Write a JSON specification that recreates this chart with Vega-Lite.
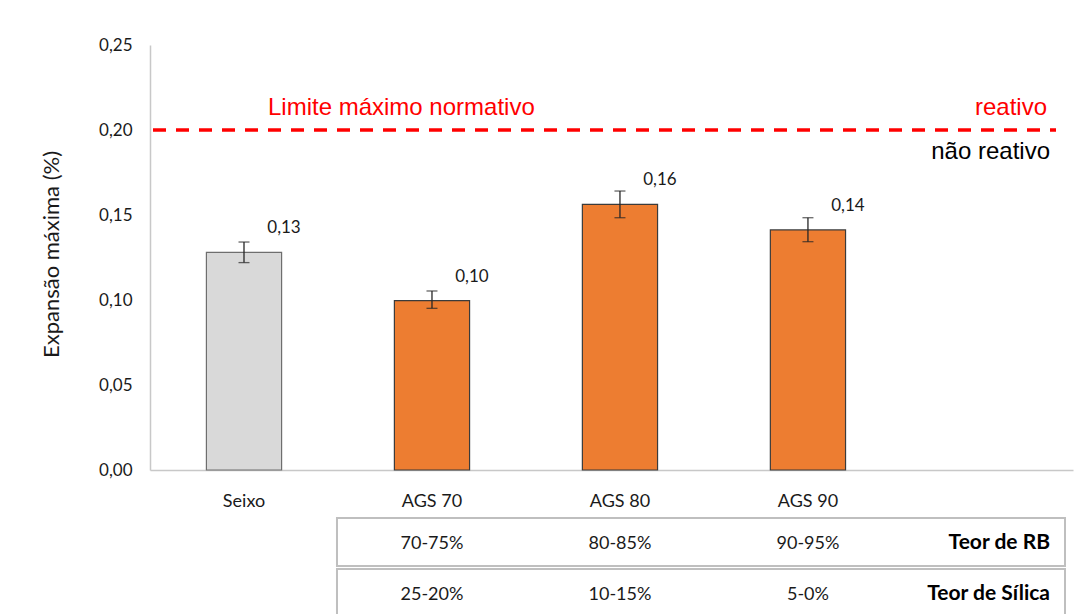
{
  "$schema": "https://vega.github.io/schema/vega-lite/v6.json",
  "width": 923,
  "height": 425,
  "autosize": {"type": "none"},
  "padding": {"left": 150, "top": 45, "right": 10, "bottom": 144},
  "background": "white",
  "config": {"view": {"stroke": null}, "font": "Lato"},
  "resolve": {"scale": {"y": "independent"}, "axis": {"y": "independent"}},
  "layer": [
    {
      "data": {"values": [
        {"amostra": "Seixo", "tipo": "Referência", "valor": 0.128, "min": 0.122, "max": 0.1341, "rotulo": "0,13"},
        {"amostra": "AGS 70", "tipo": "AGS", "valor": 0.0996, "min": 0.0951, "max": 0.1053, "rotulo": "0,10"},
        {"amostra": "AGS 80", "tipo": "AGS", "valor": 0.1563, "min": 0.1484, "max": 0.1641, "rotulo": "0,16"},
        {"amostra": "AGS 90", "tipo": "AGS", "valor": 0.1412, "min": 0.1343, "max": 0.1484, "rotulo": "0,14"}
      ]},
      "layer": [
        {
          "mark": {"type": "bar", "strokeWidth": 1.2},
          "encoding": {
            "x": {
              "field": "amostra", "type": "nominal", "sort": null,
              "scale": {"domain": ["Seixo", "AGS 70", "AGS 80", "AGS 90"], "paddingInner": 0.6, "paddingOuter": 0.755, "align": 0.1987},
              "axis": {"title": null, "ticks": false, "domainColor": "#c8c8c8", "domainWidth": 1.5, "labelFont": "Lato", "labelFontSize": 18, "labelColor": "#1a1a1a", "labelAngle": 0, "labelPadding": 31, "labelBaseline": "middle"}
            },
            "y": {
              "field": "valor", "type": "quantitative",
              "scale": {"domain": [0, 0.25], "nice": false, "zero": true},
              "axis": {"values": [0, 0.05, 0.1, 0.15, 0.2, 0.25], "labelExpr": "replace(format(datum.value,'.2f'),'.',',')", "ticks": false, "grid": false, "domainColor": "#c8c8c8", "domainWidth": 1.5, "labelFont": "Lato", "labelFontSize": 17, "labelColor": "#1a1a1a", "labelPadding": 18, "title": "Expansão máxima (%)", "titleFont": "Lato", "titleFontSize": 22, "titleFontWeight": "normal", "titleColor": "#1a1a1a", "titleX": -99, "titleY": 209, "titleAngle": -90, "titleAlign": "center", "titleBaseline": "middle"}
            },
            "fill": {"field": "tipo", "type": "nominal", "scale": {"domain": ["Referência", "AGS"], "range": ["#d9d9d9", "#ed7d31"]}, "legend": null},
            "stroke": {"field": "tipo", "type": "nominal", "scale": {"domain": ["Referência", "AGS"], "range": ["#6e6e6e", "#3b3b3b"]}, "legend": null}
          }
        },
        {
          "mark": {"type": "rule", "color": "#262626", "strokeWidth": 1.3},
          "encoding": {
            "x": {"field": "amostra", "type": "nominal"},
            "y": {"field": "min", "type": "quantitative"},
            "y2": {"field": "max"}
          }
        },
        {
          "mark": {"type": "tick", "color": "#262626", "thickness": 1.3, "size": 11, "orient": "horizontal"},
          "encoding": {
            "x": {"field": "amostra", "type": "nominal"},
            "y": {"field": "max", "type": "quantitative"}
          }
        },
        {
          "mark": {"type": "tick", "color": "#262626", "thickness": 1.3, "size": 11, "orient": "horizontal"},
          "encoding": {
            "x": {"field": "amostra", "type": "nominal"},
            "y": {"field": "min", "type": "quantitative"}
          }
        },
        {
          "mark": {"type": "text", "font": "Lato", "fontSize": 17, "dx": 40, "dy": -24, "align": "center", "baseline": "middle", "color": "#1a1a1a"},
          "encoding": {
            "x": {"field": "amostra", "type": "nominal"},
            "y": {"field": "valor", "type": "quantitative"},
            "text": {"field": "rotulo"}
          }
        },
        {
          "data": {"values": [{"limite": 0.2}]},
          "mark": {"type": "rule", "color": "#ff0000", "strokeWidth": 3.5, "strokeDash": [13, 10], "xOffset": 3, "x2Offset": -17},
          "encoding": {
            "y": {"field": "limite", "type": "quantitative"},
            "x": {"value": 0},
            "x2": {"value": "width"}
          }
        },
        {
          "data": {"values": [{"texto": "Limite máximo normativo", "limite": 0.2, "amostra": "Seixo"}]},
          "mark": {"type": "text", "font": "Liberation Sans", "fontSize": 24, "color": "#ff0000", "align": "left", "baseline": "middle", "dx": 24, "dy": -22},
          "encoding": {
            "x": {"field": "amostra", "type": "nominal"},
            "y": {"field": "limite", "type": "quantitative"},
            "text": {"field": "texto"}
          }
        },
        {
          "data": {"values": [{"texto": "reativo", "limite": 0.2}]},
          "mark": {"type": "text", "font": "Liberation Sans", "fontSize": 24, "color": "#ff0000", "align": "right", "baseline": "middle", "dx": -26, "dy": -22},
          "encoding": {
            "x": {"value": "width"},
            "y": {"field": "limite", "type": "quantitative"},
            "text": {"field": "texto"}
          }
        },
        {
          "data": {"values": [{"texto": "não reativo", "limite": 0.2}]},
          "mark": {"type": "text", "font": "Liberation Sans", "fontSize": 24, "color": "#000000", "align": "right", "baseline": "middle", "dx": -23, "dy": 22},
          "encoding": {
            "x": {"value": "width"},
            "y": {"field": "limite", "type": "quantitative"},
            "text": {"field": "texto"}
          }
        }
      ]
    },
    {
      "data": {"values": [
        {"linha": "Teor de RB", "amostra": "AGS 70", "faixa": "70-75%"},
        {"linha": "Teor de RB", "amostra": "AGS 80", "faixa": "80-85%"},
        {"linha": "Teor de RB", "amostra": "AGS 90", "faixa": "90-95%"},
        {"linha": "Teor de Sílica", "amostra": "AGS 70", "faixa": "25-20%"},
        {"linha": "Teor de Sílica", "amostra": "AGS 80", "faixa": "10-15%"},
        {"linha": "Teor de Sílica", "amostra": "AGS 90", "faixa": "5-0%"}
      ]},
      "layer": [
        {
          "data": {"values": [{"linha": "Teor de RB"}, {"linha": "Teor de Sílica"}]},
          "mark": {"type": "rect", "fill": "white", "fillOpacity": 0, "stroke": "#bfbfbf", "strokeWidth": 2, "xOffset": -57.4, "x2Offset": -8},
          "encoding": {
            "x": {"datum": "AGS 70", "type": "nominal", "bandPosition": 0},
            "x2": {"value": "width"},
            "y": {"field": "linha", "type": "nominal", "scale": {"domain": ["Teor de RB", "Teor de Sílica"], "range": [473, 572], "paddingInner": 0.06, "paddingOuter": 0}, "axis": null}
          }
        },
        {
          "mark": {"type": "text", "font": "Lato", "fontSize": 18, "color": "#1a1a1a", "align": "center", "baseline": "middle", "dy": 2},
          "encoding": {
            "x": {"field": "amostra", "type": "nominal"},
            "y": {"field": "linha", "type": "nominal", "axis": null},
            "text": {"field": "faixa"}
          }
        },
        {
          "data": {"values": [{"linha": "Teor de RB"}, {"linha": "Teor de Sílica"}]},
          "mark": {"type": "text", "font": "Lato", "fontSize": 21, "fontWeight": "bold", "color": "#000000", "align": "right", "baseline": "middle", "dx": -23, "dy": 1},
          "encoding": {
            "x": {"value": "width"},
            "y": {"field": "linha", "type": "nominal", "axis": null},
            "text": {"field": "linha"}
          }
        }
      ]
    }
  ]
}
